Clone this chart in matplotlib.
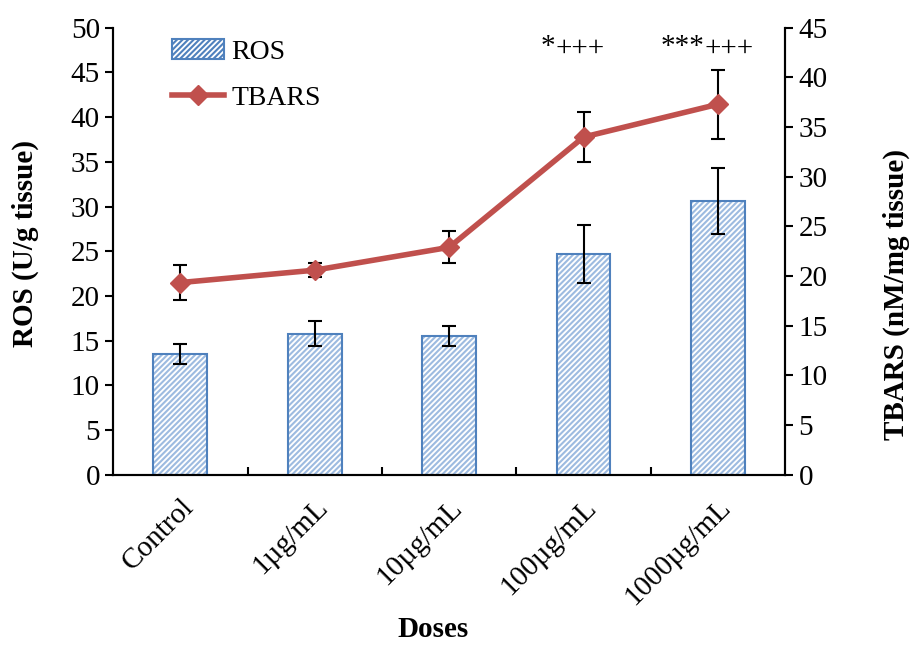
import numpy as np
import matplotlib
matplotlib.use("Agg")
import matplotlib.pyplot as plt
import matplotlib.transforms as mtransforms
from matplotlib.lines import Line2D
from matplotlib.patches import Patch

plt.rcParams['font.family'] = ['Liberation Serif', 'DejaVu Serif']
plt.rcParams['hatch.linewidth'] = 1.5

doses = ["Control", "1µg/mL", "10µg/mL", "100µg/mL", "1000µg/mL"]
ros = [13.5, 15.8, 15.5, 24.7, 30.6]
ros_err = [1.1, 1.4, 1.1, 3.25, 3.7]
tbars = [19.35, 20.6, 22.9, 34.0, 37.3]
tbars_err = [1.8, 0.7, 1.6, 2.5, 3.5]
stars = ["", "", "", "*", "***"]
plus = ["", "", "", "+++", "+++"]

blue = "#4F81BD"
hatch_blue = "#9DBBE0"
red = "#C0504D"

fig = plt.figure(figsize=(9.12, 6.46), dpi=100)
ax = fig.add_axes([0.124, 0.265, 0.737, 0.692])
ax2 = ax.twinx()

x = np.arange(len(doses))
ax.bar(x, ros, width=0.4, color="white", edgecolor=hatch_blue,
       hatch="//////", linewidth=0, zorder=2)
ax.bar(x, ros, width=0.4, color="none", edgecolor=blue, linewidth=1.5, zorder=3)
ax.errorbar(x, ros, yerr=ros_err, fmt="none", ecolor="black",
            elinewidth=1.5, capsize=5, capthick=1.5, zorder=4)

ax2.errorbar(x, tbars, yerr=tbars_err, fmt="none", ecolor="black",
             elinewidth=1.5, capsize=5, capthick=1.5, zorder=2)
ax2.plot(x, tbars, color=red, lw=4, marker="D", ms=10, zorder=3)

ax.set_xlim(-0.5, 4.5)
ax.set_ylim(0, 50)
ax.set_yticks(np.arange(0, 51, 5))
ax2.set_ylim(0, 45)
ax2.set_yticks(np.arange(0, 46, 5))

ax.set_xticks(x)
ax.set_xticklabels(doses, rotation=45, ha="right", rotation_mode="anchor")
ax.set_xticks(np.arange(0.5, 4.5, 1), minor=True)
ax.tick_params(axis="x", which="major", length=0, labelsize=21, pad=14)
ax.tick_params(axis="x", which="minor", direction="in", length=6, width=1.5)
ax.tick_params(axis="y", labelsize=21, direction="out", length=6, width=1.5)
ax2.tick_params(axis="y", labelsize=21, direction="out", length=6, width=1.5)

for a in (ax, ax2):
    a.spines["top"].set_visible(False)
    for sp in ("left", "right", "bottom"):
        a.spines[sp].set_linewidth(1.5)

ax.set_xlabel("Doses", fontsize=21, fontweight="bold", va="center")
ax.xaxis.set_label_coords(0.476, -0.345)
ax.set_ylabel("ROS (U/g tissue)", fontsize=21, fontweight="bold",
              ha="center", va="center")
ax.yaxis.set_label_coords(-0.131, 0.517)
ax2.set_ylabel("TBARS (nM/mg tissue)", fontsize=21, fontweight="bold",
               ha="center", va="center")
ax2.yaxis.set_label_coords(1.165, 0.403)

handles = [Patch(facecolor="white", edgecolor=blue, hatch="//////", linewidth=1.5),
           Line2D([], [], color=red, lw=4, marker="D", ms=10)]
ax2.legend(handles, ["ROS", "TBARS"], loc="upper left", bbox_to_anchor=(0.05, 1.03),
           frameon=False, fontsize=20, handlelength=1.9, handletextpad=0.25,
           labelspacing=0.75)

# significance marks: stars raised a little, whole group centred slightly left of the bar
fig.canvas.draw()
renderer = fig.canvas.get_renderer()
for xi, s, p in zip(x, stars, plus):
    if not s:
        continue
    t1 = ax.text(xi, 47.8, s, ha="right", va="center", fontsize=21)
    t2 = ax.text(xi, 47.6, p, ha="left", va="center", fontsize=21)
    w1 = t1.get_window_extent(renderer).width
    w2 = t2.get_window_extent(renderer).width
    shift = (w1 - w2) / 2 - 11
    for t in (t1, t2):
        t.set_transform(mtransforms.offset_copy(ax.transData, fig=fig, x=shift,
                                                y=0, units="dots"))

fig.savefig("out.png", dpi=100)
